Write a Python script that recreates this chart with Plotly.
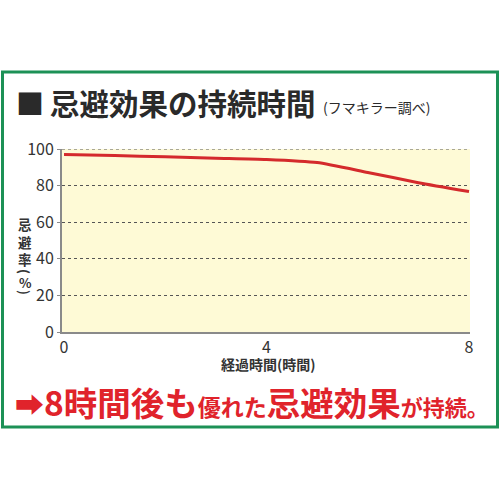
import plotly.graph_objects as go

hours = [0, 1, 2, 3, 4, 5, 6, 7, 8]
repel_rate = [97, 96.4, 95.7, 95.0, 94.3, 92.6, 87.2, 81.6, 76.8]
x_ticks = [0, 4, 8]
y_ticks = [0, 20, 40, 60, 80, 100]

title_text = "忌避効果の持続時間"
subtitle_text = "(フマキラー調べ)"
x_title = "経過時間(時間)"
y_title_chars = ["忌", "避", "率"]
y_title_unit = ["(", "%", ")"]

W, H = 500, 500
L, R, T, B = 62, 30, 149, 168
PW, PH = W - L - R, H - T - B

def px(x):
    return (x - L) / PW

def py(y):
    return (H - B - y) / PH

FONT = "Noto Sans CJK JP"
RED = "#E0232B"
DARK = "#2A2A2A"
GREEN = "#1C9156"

fig = go.Figure()
fig.add_trace(go.Scatter(
    x=hours, y=repel_rate, mode="lines",
    line=dict(color="#D42A2C", width=3, shape="spline", smoothing=0.6),
    hoverinfo="skip", showlegend=False,
))

fig.update_layout(
    width=W, height=H,
    margin=dict(l=L, r=R, t=T, b=B, pad=0),
    paper_bgcolor="white",
    plot_bgcolor="#FEFAD6",
    font=dict(family=FONT, color="#333333"),
    xaxis=dict(
        range=[-0.04, 8.02], tickvals=x_ticks, ticktext=[str(v) for v in x_ticks],
        showgrid=False, zeroline=False, showline=True, linecolor="#8A8A8A", linewidth=2,
        ticks="", tickfont=dict(size=16, family=FONT, color="#333333"),
        fixedrange=True,
    ),
    yaxis=dict(
        range=[0, 100], tickvals=y_ticks, ticktext=[str(v) for v in y_ticks],
        showgrid=True, gridcolor="#555555", griddash="dot", gridwidth=1,
        zeroline=False, showline=True, linecolor="#8A8A8A", linewidth=2,
        ticks="outside", ticklen=3, tickcolor="#8A8A8A",
        tickfont=dict(size=16, family=FONT, color="#333333"),
        fixedrange=True,
    ),
)

shapes = [
    dict(type="rect", xref="paper", yref="paper",
         x0=px(2.5), x1=px(497.5), y0=py(427), y1=py(72),
         line=dict(color=GREEN, width=3), fillcolor="rgba(0,0,0,0)", layer="below"),
    dict(type="line", xref="paper", yref="y", x0=0, x1=1, y0=100, y1=100,
         line=dict(color="#555555", width=1, dash="dot")),
]
fig.update_layout(shapes=shapes)

ann = []
ann.append(dict(text="<b>■</b>", x=px(30), y=py(103), xanchor="center", yanchor="middle",
                font=dict(size=28, color=DARK, family=FONT)))
ann.append(dict(text="<b>" + title_text + "</b>", x=px(48), y=py(102), xanchor="left", yanchor="middle",
                font=dict(size=29.5, color=DARK, family=FONT)))
ann.append(dict(text=subtitle_text, x=px(321), y=py(107), xanchor="left", yanchor="middle",
                font=dict(size=14, color=DARK, family=FONT)))
ann.append(dict(text="<b>" + x_title + "</b>", x=px(268), y=py(364), xanchor="center", yanchor="middle",
                font=dict(size=14, color="#333333", family=FONT)))

ann.append(dict(text="<b>" + "<br>".join(y_title_chars) + "</b>", x=px(25), y=py(241),
                xanchor="center", yanchor="middle",
                font=dict(size=13.5, color="#333333", family=FONT)))
for ch, yy, ang in zip(y_title_unit, [271, 282, 292], [90, 0, 90]):
    ann.append(dict(text="<b>" + ch + "</b>", x=px(25), y=py(yy), xanchor="center", yanchor="middle",
                    textangle=ang, font=dict(size=13, color="#333333", family=FONT)))

bottom = ("<b><span style='font-size:29px'>➡</span>"
          "<span style='font-size:33.5px'>8時間後も</span>"
          "<span style='font-size:23px'>優れた</span>"
          "<span style='font-size:33.5px'>忌避効果</span>"
          "<span style='font-size:22px'>が持続。</span></b>")
ann.append(dict(text=bottom, x=px(252), y=py(401), xanchor="center", yanchor="middle",
                font=dict(size=33, color=RED, family=FONT)))

for a in ann:
    a.update(xref="paper", yref="paper", showarrow=False)
fig.update_layout(annotations=ann)

fig.write_html("out.html", config={"displayModeBar": False},
               post_script="document.body.style.margin='0';")
